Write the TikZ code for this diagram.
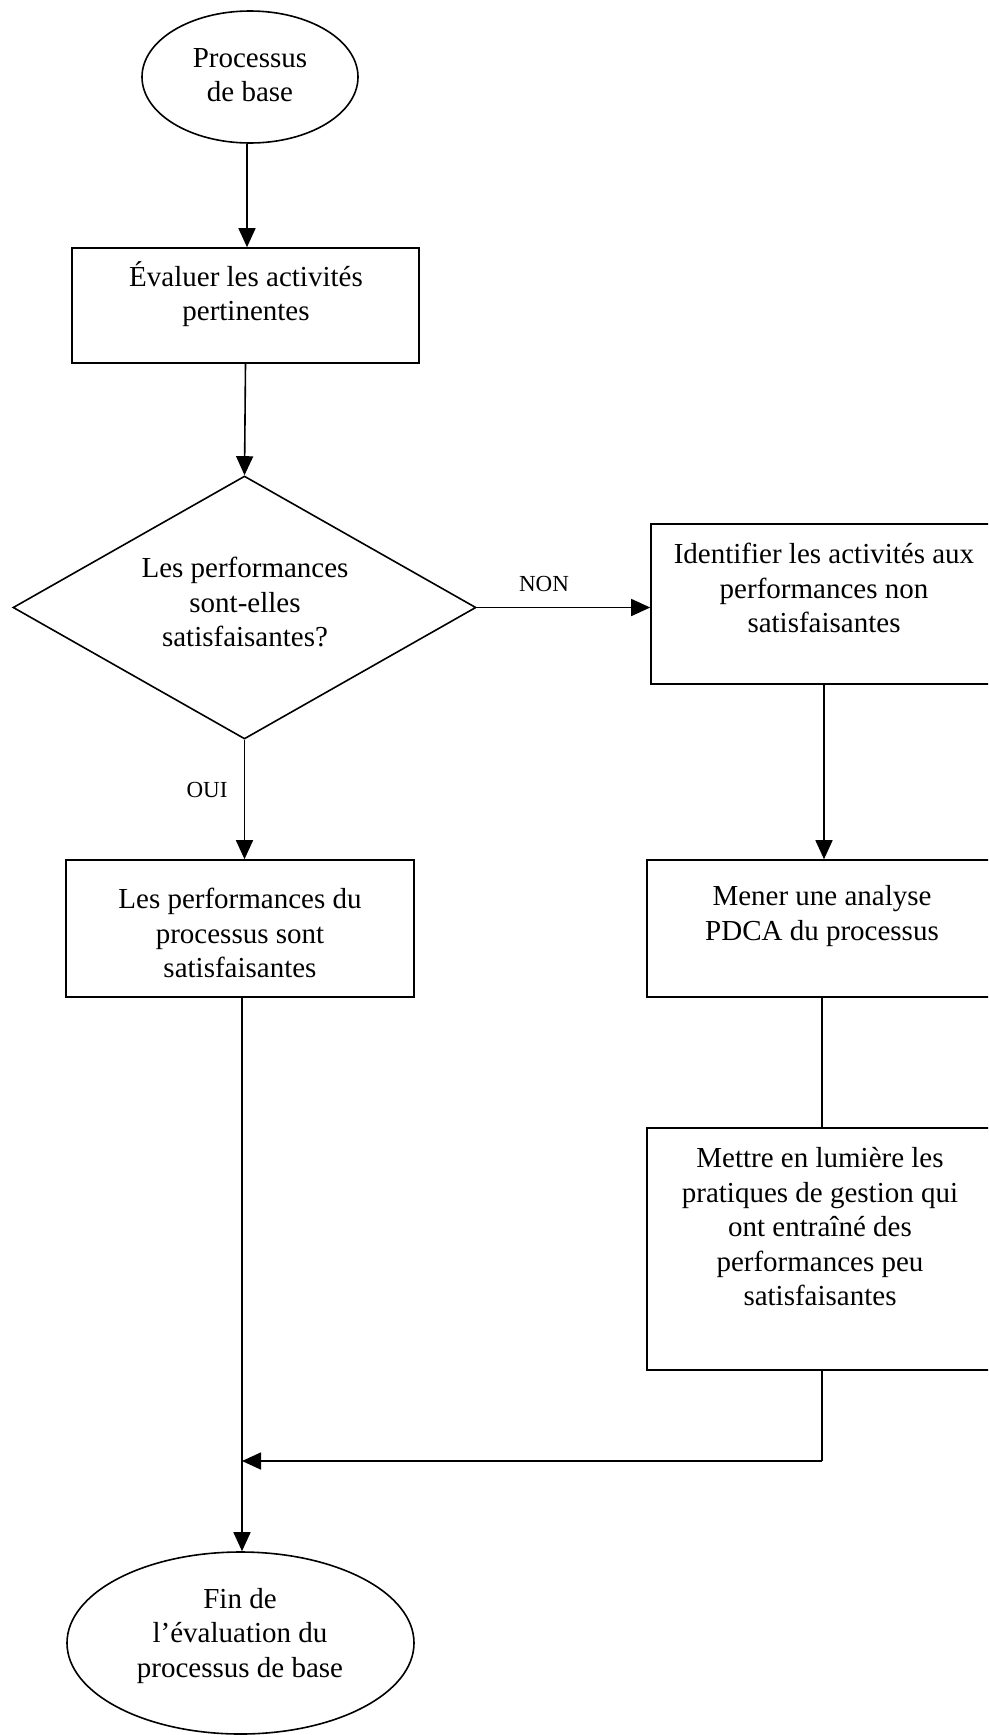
\documentclass[tikz,border=0pt]{standalone}
\usepackage{fontspec}
\setmainfont{Liberation Serif}
\usetikzlibrary{shapes.geometric,arrows.meta}
\begin{document}
\begin{tikzpicture}[x=1pt,y=-1pt,
  every node/.style={inner sep=0pt},
  shp/.style={draw=black, line width=1.6pt, fill=white},
  boxnode/.style={shp, rectangle},
  ellnode/.style={shp, ellipse},
  dianode/.style={shp, diamond},
  txt/.style={align=center, font=\fontsize{29}{34.5}\selectfont},
  lbl/.style={font=\fontsize{23}{27}\selectfont},
  arr/.style={line width=1.6pt, -{Triangle[length=19pt,width=17pt]}},
  ln/.style={line width=1.6pt}]
\clip (0,0) rectangle (988,1735);
\fill[white] (0,0) rectangle (988,1735);

% shapes
\node[ellnode, minimum width=216pt, minimum height=132pt] (top) at (250,77) {};
\node[boxnode, minimum width=347pt, minimum height=115pt] (b1) at (245.5,305.5) {};
\node[dianode, minimum width=463pt, minimum height=263pt] (d) at (244.5,607.5) {};
\node[boxnode, minimum width=346pt, minimum height=160pt] (r1) at (824,604) {};
\node[boxnode, minimum width=348pt, minimum height=137pt] (l2) at (240,928.5) {};
\node[boxnode, minimum width=350pt, minimum height=137pt] (r2) at (822,928.5) {};
\node[boxnode, minimum width=350pt, minimum height=242pt] (r3) at (822,1249) {};
\node[ellnode, minimum width=347pt, minimum height=182pt] (be) at (240.5,1643) {};

% texts
\node[txt] (ttop) at (250,75) {Processus\\de base};
\node[txt] (tb1) at (246,294) {Évaluer les activités\\pertinentes};
\node[txt] (td) at (245,602) {Les performances\\sont-elles\\satisfaisantes?};
\node[txt] (tr1) at (824,588) {Identifier les activités aux\\performances non\\satisfaisantes};
\node[txt] (tl2) at (240,933) {Les performances du\\processus sont\\satisfaisantes};
\node[txt] (tr2) at (822,916) {Mener une analyse\\PDCA du processus};
\node[txt] (tr3) at (820,1227) {Mettre en lumière les\\pratiques de gestion qui\\ont entraîné des\\performances peu\\satisfaisantes};
\node[txt] (tbe) at (240,1636) {Fin de\\l’évaluation du\\processus de base};

% labels
\node[lbl] (non) at (544,584) {NON};
\node[lbl] (oui) at (207,790) {OUI};

% connectors
\draw[arr] ([xshift=1.5pt]top.south -| b1.north) -- ([xshift=1.5pt]b1.north);
\draw[arr] (b1.south) -- (d.north);
\draw[arr] (d.east) -- (d.east -| r1.west);
\draw[arr] (d.south) -- (d.south |- l2.north);
\draw[arr] (r1.south) -- (r1.south |- r2.north);
\draw[ln] (r2.south) -- (r3.north);
\coordinate (turn) at (822,1461);
\coordinate (ls) at ([xshift=2pt]l2.south);
\draw[ln] (r3.south) -- (turn);
\draw[arr] (turn) -- (turn -| ls);
\draw[arr] (ls) -- (ls |- be.north);
\end{tikzpicture}
\end{document}
